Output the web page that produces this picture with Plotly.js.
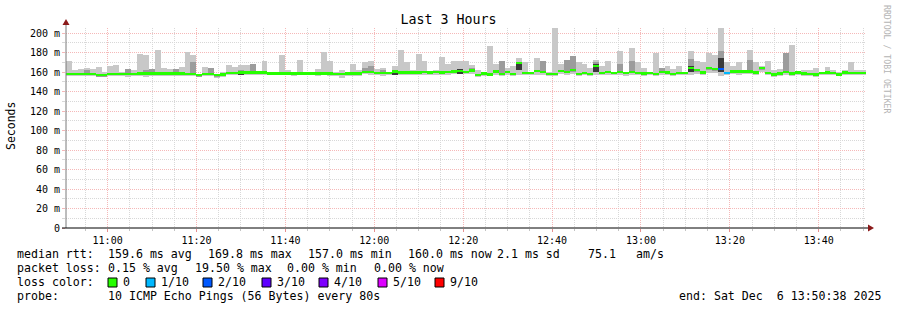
<!DOCTYPE html>
<html>
<head>
<meta charset="utf-8">
<script src="https://cdn.plot.ly/plotly-3.0.1.min.js"></script>
<style>
  html, body { margin: 0; padding: 0; background: #fff; }
  #chart { width: 897px; height: 310px; }
</style>
</head>
<body>
<div id="chart"></div>
<script>
// ---- data (ms), one entry per 80 s step, 10:50:38 -> 13:50:38 ----
const startUtc = Date.UTC(2025, 11, 6, 10, 50, 38);
const stepSeconds = 80;

const rttMed = [
  158,158,158,158,158,156.5,156.5,158,158,158,
  158,158,158.5,158.5,158.5,158.5,158.5,158.5,158.5,158.5,
  158,158,156.5,158,158,156.5,157.5,159,159,159.5,
  159.5,159.5,159.5,159.5,
  158.5,158.5,158.5,158.5,158.5,158.5,158.5,158.5,158.5,158.5,
  158.5,158,158,158.5,158.5,158.5,160,160,159,159,
  159,160.5,159.5,159.5,159.5,159.5,160,159.5,160,159.5,160,160.5,161,
  160,161.5,157,158.5,157.5,160.5,158,160,158,169,
  159,159,161,160,158,158,161,160,162,158,
  159,158,166,159,160,159,160,159,160,159,
  158.5,159,158,160,
  159.5,158,159,159,164,162,159.5,164,163,163.5,
  159,160.5,160.5,160.5,160.5,159.5,164,159,157.5,158.5,
  160,158.5,159.5,158.5,158,157.5,159,159.5,159,157.5,159.5,159,159,159
];

const rttMax = [
  171,162,163,164.5,163,165.5,160,166,167,160,
  163,162,178,177,163,182.5,164,163,160,165,
  181,177,158,165,164,158,160,167,165,167,
  167,168,161,171,
  160,160,177,162,160,172,160,160,163,181,
  171,160,162,160,168,162,170,171,163,164,
  160,166,182.5,170,162,178,171,161,162,175,168,171,171.5,
  171,167,162,160,186.7,168,171,164,166,174,
  170,160.5,174,171,160,205,168,172,176,170,
  168,164,172,166,171,160,182,160,184.5,170,
  164,160,179,164,
  166,163,166,160,182,171.5,170,179,177.5,205,
  170,166,170,162,183,170,166,171,162,163,
  180,187.5,161,162,162,164,160,165,162,160,162,170,162,162
];

const rttHi = [
  159,159,159,162,159,157.5,157.5,159,159,159,
  163,159,159.5,162,163,159.5,159.5,159.5,163,159.5,
  159,170,157.5,159,164,157.5,158.5,160,160,162,
  160.5,168,160.5,160.5,
  159.5,159.5,159.5,159.5,159.5,159.5,159.5,159.5,159.5,159.5,
  159.5,159,159,159.5,159.5,159.5,164.5,166,160,162,
  160,162,160.5,160.5,160.5,160.5,161,160.5,161,160.5,161,161.5,163,
  161,164,158,159.5,158.5,162,171,161,159,170,
  160,160,162,171,159,159,162,172,176,159,
  160,159,170,160,161,160,168,160,171,160,
  159.5,160,159,164,
  160.5,159,160,160,173,163,160.5,165,164,182,
  160,161.5,161.5,161.5,172,160.5,165,160,158.5,159.5,
  180,159.5,160.5,159.5,159,158.5,160,160.5,160,158.5,160.5,160,160,160
];

const rttMin = [
  155.5,156,156,156,156,155,155,156,156,156,
  154.5,156,156,155,156,156,156,156,155.5,156,
  156,156,154.5,155.5,155.5,154,155,156.5,156.5,157,
  157,156.5,157,157,
  156.5,156.5,156.5,156.5,156,156.5,156.5,156.5,156,156.5,
  156,155.5,153.5,155.5,156,156,157.5,157,156.5,156,
  156.5,157,157,156.5,157,157,157,157,157,157,157,158,157.5,
  157.5,158,155,156,155.5,157,155.5,157,156,157,
  156.5,156.5,157,157,156,156,158,157,158,156,
  156.5,156,157,156.5,157,156.5,157,156,157,156.5,
  156,156.5,155.5,157,
  157,155.5,156.5,156.5,157,158,157,159,159,155.5,
  156.5,158,157,158,158,157,160,157,155,156,
  157,156,157,156,155.5,155,156.5,157,156.5,155.5,157,156.5,156.5,156.5
];

// darkest smoke blocks near the median
const darkStep = [29, 55, 66, 76, 89, 105, 110];
const darkLow  = [157, 157, 158, 162, 160, 160, 160];
const darkHigh = [161, 162, 163, 170, 168, 166, 174];

// steps with lost pings (count out of 10)
const lossStep = [110, 111];
const lossCount = [2, 1];

const lossColors = ['#26ff00', '#00b8ff', '#0059ff', '#5e00ff', '#7e00ff', '#dd00ff', '#ff0000'];
const lossLabels = ['0', '1/10', '2/10', '3/10', '4/10', '5/10', '9/10'];

const yTickVals = [0, 20, 40, 60, 80, 100, 120, 140, 160, 180, 200];
const yTickText = ['0', '20 m', '40 m', '60 m', '80 m', '100 m', '120 m', '140 m', '160 m', '180 m', '200 m'];

// ---- build ----
const stepMs = stepSeconds * 1000;
const xs = rttMed.map((_, i) => startUtc + (i + 0.5) * stepMs);
const endUtc = startUtc + rttMed.length * stepMs;

const lossPerStep = rttMed.map(() => 0);
lossStep.forEach((s, k) => { lossPerStep[s] = lossCount[k]; });
function lossColor(n) { return n >= 6 ? lossColors[6] : lossColors[n]; }

const medHalf = 1.1;
const traces = [
  { type: 'bar', x: xs, base: rttMin, y: rttMax.map((v, i) => v - rttMin[i]), width: stepMs,
    marker: { color: '#c8c8c8', line: { width: 0 } }, hoverinfo: 'skip' },
  { type: 'bar', x: xs, base: rttMed.map(v => v - 1.5), y: rttHi.map((v, i) => v - (rttMed[i] - 1.5)), width: stepMs,
    marker: { color: '#9c9c9c', line: { width: 0 } }, hoverinfo: 'skip' },
  { type: 'bar', x: darkStep.map(s => xs[s]), base: darkLow, y: darkHigh.map((v, i) => v - darkLow[i]), width: stepMs,
    marker: { color: '#3a3a3a', line: { width: 0 } }, hoverinfo: 'skip' },
  { type: 'bar', x: xs, base: rttMed.map(v => v - medHalf), y: rttMed.map(() => 2 * medHalf), width: stepMs,
    marker: { color: lossPerStep.map(lossColor), line: { width: 0 } }, hoverinfo: 'skip' }
];

// pixel helpers (plot area: x 66..866, y 28..228)
const L = 66, T = 28, W = 800, H = 200;
const px = x => (x - L) / W;
const py = y => (T + H - y) / H;

const mono = 'DejaVu Sans Mono';
const annotations = [];
function txt(text, x, y, opts) {
  annotations.push(Object.assign({
    text: text, xref: 'paper', yref: 'paper', x: px(x), y: py(y),
    xanchor: 'left', yanchor: 'middle', showarrow: false, borderpad: 0,
    font: { family: mono, size: 11.6, color: '#000' }
  }, opts || {}));
}
// legend lines
txt('median rtt:', 16, 254);
txt('159.6 ms avg', 107, 254);
txt('169.8 ms max', 207, 254);
txt('157.0 ms min', 307, 254);
txt('160.0 ms now', 407, 254);
txt('2.1 ms sd', 496, 254);
txt('75.1', 587, 254);
txt('am/s', 635, 254);
txt('packet loss:', 16, 268);
txt('0.15 % avg', 107, 268);
txt('19.50 % max', 194, 268);
txt('0.00 % min', 286, 268);
txt('0.00 % now', 373, 268);
txt('loss color:', 16, 282);
const sqX = [108, 146, 203, 262, 319, 378, 435];
const shapes = [];
lossLabels.forEach((lab, i) => {
  txt(lab, sqX[i] + 14, 282);
  shapes.push({ type: 'rect', xref: 'paper', yref: 'paper',
    x0: px(sqX[i]), x1: px(sqX[i] + 9), y0: py(287), y1: py(278),
    fillcolor: lossColors[i], line: { color: '#000', width: 1 } });
});
txt('probe:', 16, 296);
txt('10 ICMP Echo Pings (56 Bytes) every 80s', 107, 296);
txt('end: Sat Dec \u00a06 13:50:38 2025', 678, 296);

// y axis title and side credit
txt('Seconds', 11, 126, { xanchor: 'center', textangle: -90, font: { family: mono, size: 11.5, color: '#000' } });
txt('RRDTOOL / TOBI OETIKER', 887, 59, { xanchor: 'center', textangle: 90, font: { family: mono, size: 8.2, color: '#b4b4b4' } });

// axis lines and arrows
shapes.push({ type: 'line', xref: 'paper', yref: 'paper', x0: px(66), x1: px(66), y0: py(228), y1: py(24),
  line: { color: '#7a7a7a', width: 1 } });
shapes.push({ type: 'line', xref: 'paper', yref: 'paper', x0: px(62), x1: px(868), y0: py(228), y1: py(228),
  line: { color: '#000', width: 1 } });
shapes.push({ type: 'path', xref: 'paper', yref: 'paper',
  path: `M ${px(66)} ${py(19)} L ${px(62.5)} ${py(25)} L ${px(69.5)} ${py(25)} Z`,
  fillcolor: '#8b1a1a', line: { width: 0 } });
shapes.push({ type: 'path', xref: 'paper', yref: 'paper',
  path: `M ${px(874)} ${py(228)} L ${px(868)} ${py(224.5)} L ${px(868)} ${py(231.5)} Z`,
  fillcolor: '#8b1a1a', line: { width: 0 } });

const layout = {
  width: 897, height: 310,
  margin: { l: L, r: 897 - L - W, t: T, b: 310 - T - H, pad: 0 },
  paper_bgcolor: '#fff', plot_bgcolor: '#fff',
  font: { family: mono, size: 10, color: '#000' },
  barmode: 'overlay', bargap: 0,
  showlegend: false,
  title: { text: 'Last 3 Hours', x: 0.5, xanchor: 'center', xref: 'container',
    y: 1 - 19 / 310, yanchor: 'middle', yref: 'container',
    font: { family: mono, size: 13.3, color: '#000' } },
  xaxis: {
    type: 'date', range: [startUtc, endUtc], fixedrange: true,
    tick0: Date.UTC(2025, 11, 6, 11, 0, 0), dtick: 20 * 60 * 1000, tickformat: '%H:%M',
    showgrid: true, gridcolor: '#f5b8b8', griddash: '1px,1px', gridwidth: 1,
    ticks: 'outside', ticklen: 3, tickcolor: '#e59090',
    showline: false, zeroline: false,
    tickfont: { family: mono, size: 10, color: '#000' },
    minor: { dtick: 5 * 60 * 1000, tick0: Date.UTC(2025, 11, 6, 11, 0, 0), showgrid: true,
      gridcolor: '#d8d8d8', griddash: '1px,1px', gridwidth: 1,
      ticks: 'outside', ticklen: 2, tickcolor: '#c4c4c4' }
  },
  yaxis: {
    range: [0, 205.13], fixedrange: true,
    tickmode: 'array', tickvals: yTickVals, ticktext: yTickText,
    showgrid: true, gridcolor: '#f5b8b8', griddash: '1px,1px', gridwidth: 1,
    ticks: 'outside', ticklen: 3, tickcolor: '#f5b8b8',
    showline: false, zeroline: false,
    tickfont: { family: mono, size: 10, color: '#000' },
    minor: { dtick: 10, tick0: 0, showgrid: true, gridcolor: '#d8d8d8', griddash: '1px,1px', gridwidth: 1,
      ticks: 'outside', ticklen: 3, tickcolor: '#d8d8d8' }
  },
  annotations: annotations,
  shapes: shapes
};

Plotly.newPlot('chart', traces, layout, { displayModeBar: false, staticPlot: true });
</script>
</body>
</html>
